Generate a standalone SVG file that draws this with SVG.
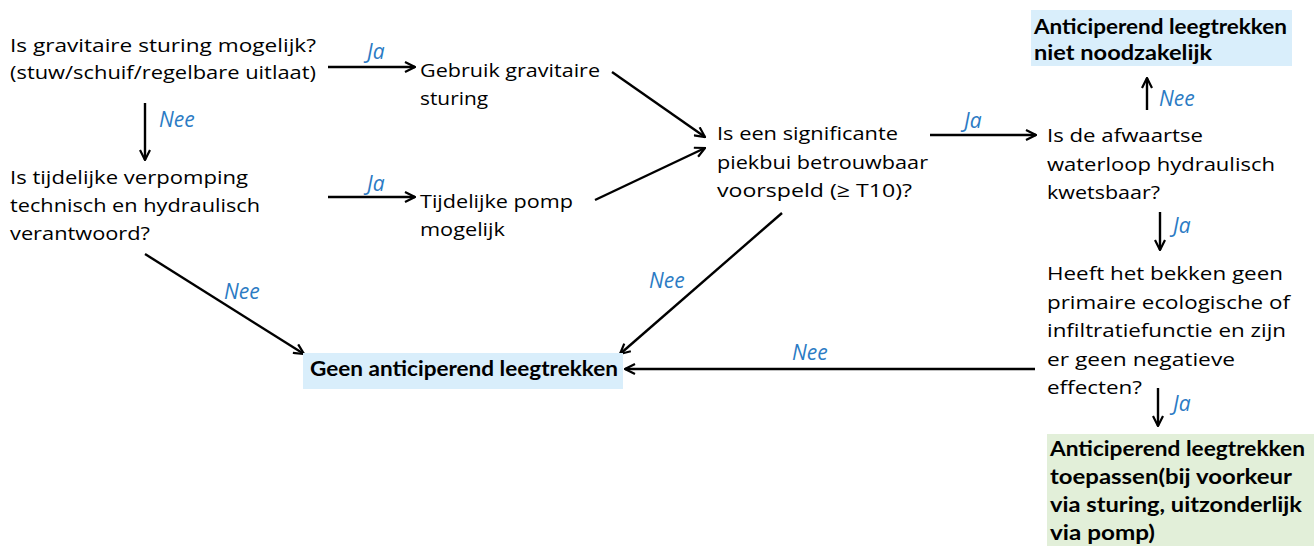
<svg xmlns="http://www.w3.org/2000/svg" width="1314" height="546" viewBox="0 0 1314 546">
<style>
.t{font-family:"Open Sans","Liberation Sans",sans-serif;font-size:19px;fill:#000}
.b{font-family:Lato,"Liberation Sans",sans-serif;font-size:21px;font-weight:bold;fill:#000}
.l{font-family:"Open Sans","Liberation Sans",sans-serif;font-size:21px;font-style:italic;fill:#2b7bc4}
.c{stroke:#000;stroke-width:2.4;fill:none;marker-end:url(#ah)}
</style>
<defs>
<marker id="ah" viewBox="0 0 12 12" refX="11" refY="6" markerWidth="12" markerHeight="12" markerUnits="userSpaceOnUse" orient="auto">
<path d="M1,1 L11,6 L1,11" fill="none" stroke="#000" stroke-width="2.2"/>
</marker>
</defs>
<rect width="1314" height="546" fill="#fff"/>
<g id="connectors">
<line class="c" x1="328" y1="67" x2="415" y2="67"/>
<line class="c" x1="328" y1="197" x2="415" y2="197"/>
<line class="c" x1="145" y1="103" x2="145" y2="160"/>
<line class="c" x1="612" y1="72" x2="705" y2="137"/>
<line class="c" x1="595" y1="200" x2="705" y2="148"/>
<line class="c" x1="930" y1="135" x2="1036" y2="135"/>
<line class="c" x1="1147" y1="110" x2="1147" y2="78"/>
<line class="c" x1="1160" y1="212" x2="1160" y2="250"/>
<line class="c" x1="1158" y1="388" x2="1158" y2="426"/>
<line class="c" x1="1035" y1="369" x2="625" y2="369"/>
<line class="c" x1="145" y1="254" x2="304" y2="354"/>
<line class="c" x1="782" y1="213" x2="620" y2="354"/>
<text class="l" x="367" y="59">Ja</text>
<text class="l" x="367" y="191">Ja</text>
<text class="l" x="159" y="127">Nee</text>
<text class="l" x="964" y="128">Ja</text>
<text class="l" x="1159" y="106">Nee</text>
<text class="l" x="1173" y="233">Ja</text>
<text class="l" x="1173" y="411">Ja</text>
<text class="l" x="792" y="360">Nee</text>
<text class="l" x="224" y="299">Nee</text>
<text class="l" x="649" y="288">Nee</text>
</g>
<g id="q1">
<text class="t" x="10" y="52" textLength="306" lengthAdjust="spacingAndGlyphs">Is gravitaire sturing mogelijk?</text>
<text class="t" x="10" y="79" textLength="306" lengthAdjust="spacingAndGlyphs">(stuw/schuif/regelbare uitlaat)</text>
</g>
<g id="q2">
<text class="t" x="10" y="184" textLength="238" lengthAdjust="spacingAndGlyphs">Is tijdelijke verpomping</text>
<text class="t" x="10" y="212" textLength="250" lengthAdjust="spacingAndGlyphs">technisch en hydraulisch</text>
<text class="t" x="10" y="240" textLength="140" lengthAdjust="spacingAndGlyphs">verantwoord?</text>
</g>
<g id="gravitair">
<text class="t" x="420" y="77" textLength="180" lengthAdjust="spacingAndGlyphs">Gebruik gravitaire</text>
<text class="t" x="420" y="105" textLength="68" lengthAdjust="spacingAndGlyphs">sturing</text>
</g>
<g id="pomp">
<text class="t" x="420" y="208" textLength="153" lengthAdjust="spacingAndGlyphs">Tijdelijke pomp</text>
<text class="t" x="420" y="236" textLength="85" lengthAdjust="spacingAndGlyphs">mogelijk</text>
</g>
<g id="q3">
<text class="t" x="717" y="140" textLength="181" lengthAdjust="spacingAndGlyphs">Is een significante</text>
<text class="t" x="717" y="169" textLength="211" lengthAdjust="spacingAndGlyphs">piekbui betrouwbaar</text>
<text class="t" x="717" y="197" textLength="195" lengthAdjust="spacingAndGlyphs">voorspeld (≥ T10)?</text>
</g>
<g id="q4">
<text class="t" x="1047" y="142" textLength="156" lengthAdjust="spacingAndGlyphs">Is de afwaartse</text>
<text class="t" x="1047" y="171" textLength="228" lengthAdjust="spacingAndGlyphs">waterloop hydraulisch</text>
<text class="t" x="1047" y="199" textLength="113" lengthAdjust="spacingAndGlyphs">kwetsbaar?</text>
</g>
<g id="niet-noodzakelijk">
<rect x="1031" y="10" width="261" height="56" fill="#d9eefb"/>
<text class="b" x="1034" y="34" textLength="253" lengthAdjust="spacingAndGlyphs">Anticiperend leegtrekken</text>
<text class="b" x="1034" y="60" textLength="178" lengthAdjust="spacingAndGlyphs">niet noodzakelijk</text>
</g>
<g id="q5">
<text class="t" x="1047" y="280" textLength="236" lengthAdjust="spacingAndGlyphs">Heeft het bekken geen</text>
<text class="t" x="1047" y="309" textLength="243" lengthAdjust="spacingAndGlyphs">primaire ecologische of</text>
<text class="t" x="1047" y="337" textLength="239" lengthAdjust="spacingAndGlyphs">infiltratiefunctie en zijn</text>
<text class="t" x="1047" y="366" textLength="188" lengthAdjust="spacingAndGlyphs">er geen negatieve</text>
<text class="t" x="1047" y="394" textLength="95" lengthAdjust="spacingAndGlyphs">effecten?</text>
</g>
<g id="toepassen">
<rect x="1047" y="434" width="267" height="112" fill="#e2efd9"/>
<text class="b" x="1050" y="456" textLength="255" lengthAdjust="spacingAndGlyphs">Anticiperend leegtrekken</text>
<text class="b" x="1050" y="484" textLength="242" lengthAdjust="spacingAndGlyphs">toepassen(bij voorkeur</text>
<text class="b" x="1050" y="512" textLength="252" lengthAdjust="spacingAndGlyphs">via sturing, uitzonderlijk</text>
<text class="b" x="1050" y="540" textLength="105" lengthAdjust="spacingAndGlyphs">via pomp)</text>
</g>
<g id="geen">
<rect x="303" y="353" width="320" height="36" fill="#d9eefb"/>
<text class="b" x="310" y="376" textLength="308" lengthAdjust="spacingAndGlyphs">Geen anticiperend leegtrekken</text>
</g>
</svg>
